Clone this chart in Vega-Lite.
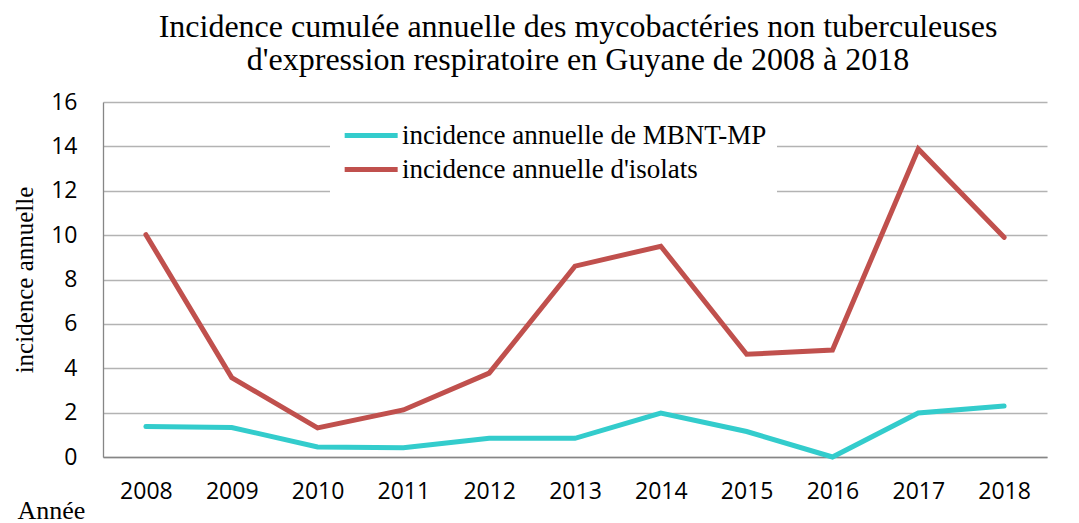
{
  "$schema": "https://vega.github.io/schema/vega-lite/v6.json",
  "width": 944,
  "height": 355,
  "autosize": {"type": "none"},
  "padding": {"left": 103, "top": 102, "right": 32, "bottom": 66},
  "background": "white",
  "title": {
    "text": ["Incidence cumulée annuelle des mycobactéries non tuberculeuses", "d'expression respiratoire en Guyane de 2008 à 2018"],
    "font": "Liberation Serif",
    "fontSize": 32,
    "fontWeight": "normal",
    "color": "black",
    "lineHeight": 33,
    "anchor": "middle",
    "dx": 3,
    "offset": 14
  },
  "data": {
    "values": [
      {"year": "2008", "series": "incidence annuelle de MBNT-MP", "value": 1.37},
      {"year": "2009", "series": "incidence annuelle de MBNT-MP", "value": 1.33},
      {"year": "2010", "series": "incidence annuelle de MBNT-MP", "value": 0.45},
      {"year": "2011", "series": "incidence annuelle de MBNT-MP", "value": 0.42},
      {"year": "2012", "series": "incidence annuelle de MBNT-MP", "value": 0.85},
      {"year": "2013", "series": "incidence annuelle de MBNT-MP", "value": 0.84},
      {"year": "2014", "series": "incidence annuelle de MBNT-MP", "value": 1.98},
      {"year": "2015", "series": "incidence annuelle de MBNT-MP", "value": 1.15},
      {"year": "2016", "series": "incidence annuelle de MBNT-MP", "value": 0.0},
      {"year": "2017", "series": "incidence annuelle de MBNT-MP", "value": 1.98},
      {"year": "2018", "series": "incidence annuelle de MBNT-MP", "value": 2.3},
      {"year": "2008", "series": "incidence annuelle d'isolats", "value": 10.02},
      {"year": "2009", "series": "incidence annuelle d'isolats", "value": 3.58},
      {"year": "2010", "series": "incidence annuelle d'isolats", "value": 1.31},
      {"year": "2011", "series": "incidence annuelle d'isolats", "value": 2.12},
      {"year": "2012", "series": "incidence annuelle d'isolats", "value": 3.78},
      {"year": "2013", "series": "incidence annuelle d'isolats", "value": 8.6},
      {"year": "2014", "series": "incidence annuelle d'isolats", "value": 9.5},
      {"year": "2015", "series": "incidence annuelle d'isolats", "value": 4.63},
      {"year": "2016", "series": "incidence annuelle d'isolats", "value": 4.82},
      {"year": "2017", "series": "incidence annuelle d'isolats", "value": 13.88},
      {"year": "2018", "series": "incidence annuelle d'isolats", "value": 9.9}
    ]
  },
  "mark": {"type": "line", "strokeWidth": 5, "strokeCap": "round", "strokeJoin": "miter"},
  "encoding": {
    "x": {
      "field": "year",
      "type": "ordinal",
      "scale": {"type": "point", "padding": 0.5},
      "axis": {
        "title": "Année",
        "titleFont": "Liberation Serif",
        "titleFontSize": 26,
        "titleFontWeight": "normal",
        "titleColor": "black",
        "titleAnchor": "start",
        "titleAlign": "left",
        "titleBaseline": "middle",
        "titleX": -86,
        "titleY": 53,
        "labelAngle": 0,
        "labelFont": "Open Sans",
        "labelFontSize": 23,
        "labelColor": "black",
        "labelPadding": 23,
        "ticks": false,
        "domainColor": "#868686",
        "domainWidth": 1.3,
        "grid": false
      }
    },
    "y": {
      "field": "value",
      "type": "quantitative",
      "scale": {"domain": [0, 16], "nice": false},
      "axis": {
        "title": "incidence annuelle",
        "titleFont": "Liberation Serif",
        "titleFontSize": 25,
        "titleFontWeight": "normal",
        "titleColor": "black",
        "titlePadding": 13,
        "values": [0, 2, 4, 6, 8, 10, 12, 14, 16],
        "labelFont": "Open Sans",
        "labelFontSize": 23,
        "labelColor": "black",
        "labelPadding": 26,
        "ticks": false,
        "domainColor": "#868686",
        "domainWidth": 1.3,
        "grid": true,
        "gridColor": "#b3b3b3",
        "gridWidth": 1.3
      }
    },
    "color": {
      "field": "series",
      "type": "nominal",
      "scale": {
        "domain": ["incidence annuelle de MBNT-MP", "incidence annuelle d'isolats"],
        "range": ["#33CCCC", "#C0504D"]
      },
      "legend": {
        "title": null,
        "orient": "none",
        "legendX": 227,
        "legendY": 10,
        "fillColor": "white",
        "padding": 10,
        "symbolType": "M-1,0H5",
        "symbolSize": 312,
        "symbolStrokeWidth": 5,
        "symbolFillColor": "transparent",
        "labelFont": "Liberation Serif",
        "labelFontSize": 27,
        "labelColor": "black",
        "labelLimit": 600,
        "labelOffset": 35,
        "rowPadding": 6
      }
    }
  },
  "config": {
    "view": {"stroke": null}
  }
}
